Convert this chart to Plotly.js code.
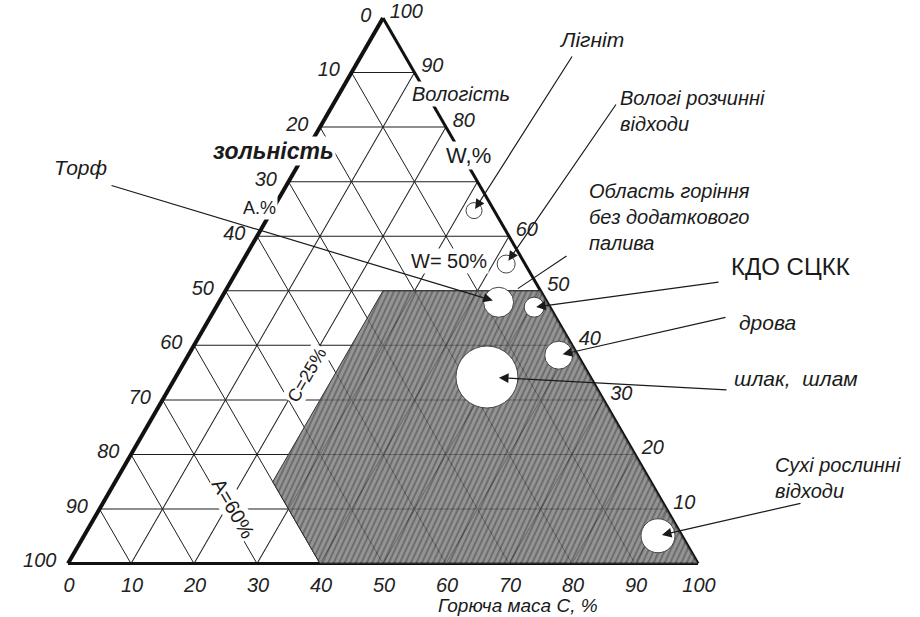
<!DOCTYPE html>
<html>
<head>
<meta charset="utf-8">
<script src="https://cdn.plot.ly/plotly-3.0.1.min.js"></script>
<style>html,body{margin:0;padding:0;background:#fff}#chart{width:920px;height:617px}</style>
</head>
<body>
<div id="chart"></div>
<script>
// ---------------- data ----------------
const fuelNames = ['Лігніт', 'Вологі розчинні відходи', 'Торф', 'КДО СЦКК', 'дрова', 'шлак, шлам', 'Сухі рослинні відходи'];
const moistureW   = [64.7, 54.9, 47.9, 47.0, 38.2, 34.2, 5.1];   // W, %
const ashA        = [3.2, 3.0, 7.7, 2.5, 3.0, 16.4, 3.8];        // A, %
const combustibleC = [32.1, 42.1, 44.4, 50.5, 58.8, 49.4, 91.1]; // C, %

// combustion zone without extra fuel: W <= 50, A <= 60, C >= 25
const zoneW = [50, 50, 0, 0, 15, 50];
const zoneA = [25, 0, 0, 60, 60, 25];
const zoneC = [25, 50, 100, 40, 25, 25];

const tickVals = [0, 10, 20, 30, 40, 50, 60, 70, 80, 90, 100];
const tickLabelsReversed = ['100', '90', '80', '70', '60', '50', '40', '30', '20', '10', '0'];
const rightTickVals = [0, 10, 20, 30, 40, 50, 60, 70, 80, 90];
const rightTickLabels = ['100', '90', '80', '', '60', '50', '40', '30', '20', '10']; // 70 is replaced by "W,%"

// ---------------- styles / layout ----------------
const FW = 920, FH = 617;
const FONT = 'Liberation Sans, Arial, Helvetica, sans-serif';
const markerSizes = [16, 18, 30, 20, 28, 62, 34];
const TRI = {x0: 68, y0: 18, w: 630};
TRI.h = TRI.w * Math.sqrt(3) / 2;

function toPx(a, b, c) {
  const s = a + b + c;
  return [TRI.x0 + TRI.w * (c + a / 2) / s, TRI.y0 + TRI.h * (1 - a / s)];
}
const PX = x => x / FW;
const PY = y => 1 - y / FH;

// arrow tails (pixels)
const arrowTails = [[573, 55], [617, 103], [110, 185], [720, 282], [727, 317], [728, 390], [802, 503]];
const arrowStandoff = [2, 4, 6, 2, 4, 12, 4];

const pixelLabels = [
  {t: '<i>Лігніт</i>', x: 557, y: 39, s: 21},
  {t: '<i>Вологі розчинні<br>відходи</i>', x: 618, y: 111, s: 20},
  {t: '<i>Область горіння<br>без додаткового<br>палива</i>', x: 587, y: 217, s: 20},
  {t: 'КДО СЦКК', x: 729, y: 266, s: 24},
  {t: '<i>дрова</i>', x: 737, y: 322, s: 21},
  {t: '<i>шлак,&nbsp;&nbsp;шлам</i>', x: 732, y: 378, s: 21},
  {t: '<i>Сухі рослинні<br>відходи</i>', x: 773, y: 478, s: 20},
  {t: '<i>Торф</i>', x: 52, y: 168, s: 21},
  {t: '<i>Горюча маса С, %</i>', x: 436, y: 605, s: 19}
];
// labels positioned in ternary coordinates (W, A, C)
const ternLabels = [
  {t: '<i>Вологість</i>', p: [86.0, -5.4, 19.4], s: 20, ang: 0},
  {t: 'W,%', p: [74.8, -0.9, 26.1], s: 22, ang: 0},
  {t: '<b><i>зольність</i></b>', p: [75.6, 29.6, -5.2], s: 23, ang: 0},
  {t: 'А.%', p: [65.2, 36.95, -2.15], s: 18, ang: 0},
  {t: 'W= 50%', p: [55.5, 11.8, 32.7], s: 20, ang: 0},
  {t: 'C=25%', p: [34.6, 44.8, 20.6], s: 18, ang: -60},
  {t: 'A=60%', p: [10.2, 68.7, 21.1], s: 20, ang: 60}
];
const zonePointer = {tail: [568, 255], tip: [50.4, 3.4, 46.2]};

// ---------------- traces ----------------
const zoneTrace = {
  type: 'scatterternary', mode: 'lines',
  a: zoneW, b: zoneA, c: zoneC,
  fill: 'toself',
  fillcolor: 'rgba(70,70,70,0.74)',
  line: {color: '#333', width: 1},
  hoverinfo: 'skip'
};
const fuelTrace = {
  type: 'scatterternary', mode: 'markers',
  a: moistureW, b: ashA, c: combustibleC,
  text: fuelNames,
  marker: {size: markerSizes, color: '#ffffff', line: {color: '#444', width: 1}, opacity: 1},
  hoverinfo: 'text'
};

// ---------------- annotations ----------------
const annotations = [];
pixelLabels.forEach(l => annotations.push({
  xref: 'paper', yref: 'paper', x: PX(l.x), y: PY(l.y), xanchor: 'left', yanchor: 'middle',
  text: l.t, showarrow: false, align: 'left',
  font: {family: FONT, size: l.s, color: '#1a1a1a'}
}));
ternLabels.forEach(l => {
  const q = toPx(l.p[0], l.p[1], l.p[2]);
  annotations.push({
    xref: 'paper', yref: 'paper', x: PX(q[0]), y: PY(q[1]), xanchor: 'center', yanchor: 'middle',
    text: l.t, showarrow: false, textangle: l.ang, bgcolor: '#ffffff', borderpad: 1,
    font: {family: FONT, size: l.s, color: '#1a1a1a'}
  });
});
fuelNames.forEach((n, i) => {
  const tip = toPx(moistureW[i], ashA[i], combustibleC[i]);
  const tail = arrowTails[i];
  annotations.push({
    xref: 'paper', yref: 'paper', x: PX(tip[0]), y: PY(tip[1]),
    ax: tail[0] - tip[0], ay: tail[1] - tip[1], axref: 'pixel', ayref: 'pixel',
    text: '', showarrow: true, arrowhead: 2, arrowsize: 1.6, arrowwidth: 1.2,
    arrowcolor: '#1a1a1a', standoff: arrowStandoff[i]
  });
});
{
  const tip = toPx(zonePointer.tip[0], zonePointer.tip[1], zonePointer.tip[2]);
  annotations.push({
    xref: 'paper', yref: 'paper', x: PX(tip[0]), y: PY(tip[1]),
    ax: zonePointer.tail[0] - tip[0], ay: zonePointer.tail[1] - tip[1], axref: 'pixel', ayref: 'pixel',
    text: '', showarrow: true, arrowhead: 0, arrowwidth: 1.1, arrowcolor: '#1a1a1a'
  });
}

// ---------------- layout ----------------
const tickFont = {family: FONT, size: 20, color: '#222', style: 'italic'};
function axis(vals, texts, lw, tl) {
  return {
    tickmode: 'array', tickvals: vals, ticktext: texts,
    ticks: 'outside', ticklen: tl, tickcolor: 'rgba(0,0,0,0)',
    showgrid: true, gridcolor: '#1e1e1e', gridwidth: 1,
    showline: true, linecolor: '#111', linewidth: lw,
    tickfont: tickFont, title: {text: ''}, layer: 'below traces'
  };
}
const layout = {
  width: FW, height: FH,
  margin: {l: 0, r: 0, t: 0, b: 0},
  paper_bgcolor: '#ffffff',
  showlegend: false,
  hovermode: false,
  ternary: {
    sum: 100,
    bgcolor: '#ffffff',
    domain: {x: [TRI.x0 / FW, (TRI.x0 + TRI.w) / FW], y: [1 - (TRI.y0 + TRI.h) / FH, 1 - TRI.y0 / FH]},
    aaxis: axis(tickVals, tickLabelsReversed, 4, 7),
    baxis: axis(tickVals, tickLabelsReversed, 3, 2),
    caxis: axis(rightTickVals, rightTickLabels, 3, 5)
  },
  annotations: annotations
};

// hatch texture for the combustion zone fill
function applyHatch(gd) {
  try {
    const svg = gd.querySelector('svg.main-svg');
    const NS = 'http://www.w3.org/2000/svg';
    let defs = svg.querySelector('defs');
    if (!defs) { defs = document.createElementNS(NS, 'defs'); svg.insertBefore(defs, svg.firstChild); }
    const pat = document.createElementNS(NS, 'pattern');
    pat.setAttribute('id', 'zoneHatch');
    pat.setAttribute('patternUnits', 'userSpaceOnUse');
    pat.setAttribute('width', '5');
    pat.setAttribute('height', '5');
    pat.setAttribute('patternTransform', 'rotate(25)');
    const r = document.createElementNS(NS, 'rect');
    r.setAttribute('width', '5'); r.setAttribute('height', '5'); r.setAttribute('fill', '#7c7c7c');
    const ln = document.createElementNS(NS, 'line');
    ln.setAttribute('x1', '1'); ln.setAttribute('y1', '0'); ln.setAttribute('x2', '1'); ln.setAttribute('y2', '5');
    ln.setAttribute('stroke', '#353535'); ln.setAttribute('stroke-width', '1.3');
    pat.appendChild(r); pat.appendChild(ln); defs.appendChild(pat);
    const fill = gd.querySelector('.ternary .scatterlayer .trace path.js-fill');
    if (fill) { fill.style.fill = 'url(#zoneHatch)'; fill.style.fillOpacity = '0.82'; }
  } catch (e) {}
}

Plotly.newPlot('chart', [zoneTrace, fuelTrace], layout, {displayModeBar: false, staticPlot: true})
  .then(applyHatch);
</script>
</body>
</html>
